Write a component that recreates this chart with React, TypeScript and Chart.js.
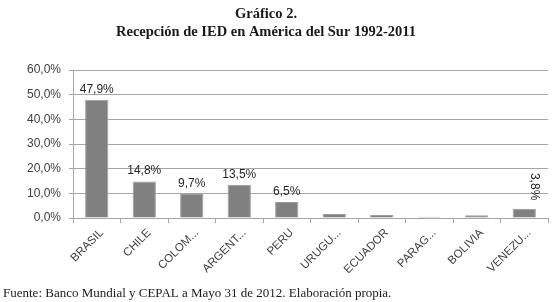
import React, { useEffect, useRef } from "react";
import { Chart, registerables } from "chart.js";

Chart.register(...registerables);

const categories = ["BRASIL", "CHILE", "COLOM...", "ARGENT...", "PERU", "URUGU...", "ECUADOR", "PARAG...", "BOLIVIA", "VENEZU..."];
const shares = [47.9, 14.8, 9.7, 13.5, 6.5, 1.6, 1.2, 0.5, 1.1, 3.8];
const shownLabels = [true, true, true, true, true, false, false, false, false, true];
const titleLines = ["Gráfico 2.", "Recepción de IED en América del Sur 1992-2011"];
const footerText = "Fuente: Banco Mundial y CEPAL a Mayo 31 de 2012. Elaboración propia.";

const fmt = (v: number) => v.toFixed(1).replace(".", ",") + "%";

const decorPlugin = {
  id: "decor",
  afterDraw(chart: any) {
    const ctx = chart.ctx as CanvasRenderingContext2D;
    ctx.save();
    ctx.fillStyle = "#1a1a1a";
    ctx.textAlign = "center";
    ctx.textBaseline = "middle";
    ctx.font = "bold 14.5px 'Liberation Serif', serif";
    ctx.fillText(titleLines[0], 266, 14);
    ctx.fillText(titleLines[1], 266, 32);
    ctx.font = "13px 'Liberation Serif', serif";
    ctx.textAlign = "left";
    ctx.textBaseline = "alphabetic";
    ctx.fillText(footerText, 3, 297);

    const meta = chart.getDatasetMeta(0);
    const xScale = chart.scales.x;

    // category labels (rotated 45°)
    ctx.fillStyle = "#404040";
    ctx.font = "11.5px 'Liberation Sans', sans-serif";
    categories.forEach((c: string, i: number) => {
      const x = xScale.getPixelForTick(i);
      ctx.save();
      ctx.translate(x + 5, xScale.top + 13);
      ctx.rotate(-Math.PI / 4);
      ctx.textAlign = "right";
      ctx.textBaseline = "middle";
      ctx.fillText(c, 0, 0);
      ctx.restore();
    });

    // data labels
    ctx.fillStyle = "#262626";
    ctx.font = "12px 'Liberation Sans', sans-serif";
    meta.data.forEach((bar: any, i: number) => {
      if (!shownLabels[i]) return;
      const txt = fmt(shares[i]);
      if (i === shownLabels.length - 1) {
        ctx.save();
        ctx.translate(bar.x + 10, bar.y - 22);
        ctx.rotate(Math.PI / 2);
        ctx.textAlign = "center";
        ctx.textBaseline = "middle";
        ctx.fillText(txt, 0, 0);
        ctx.restore();
      } else {
        ctx.textAlign = "center";
        ctx.textBaseline = "alphabetic";
        ctx.fillText(txt, bar.x, bar.y - 7);
      }
    });
    ctx.restore();
  },
};

export default function App() {
  const ref = useRef<HTMLCanvasElement>(null);
  useEffect(() => {
    if (!ref.current) return;
    const chart = new Chart(ref.current, {
      type: "bar",
      data: {
        labels: categories,
        datasets: [
          {
            data: shares,
            backgroundColor: "#808080",
            borderColor: "#9c9c9c",
            borderWidth: 1,
            categoryPercentage: 0.98,
            barPercentage: 0.5,
          },
        ],
      },
      options: {
        responsive: false,
        animation: false,
        layout: { padding: { top: 70, right: 10, left: 0, bottom: 0 } },
        plugins: { legend: { display: false }, tooltip: { enabled: false }, title: { display: false } },
        scales: {
          x: {
            grid: { drawOnChartArea: false, drawTicks: true, tickLength: 5, color: "#a6a6a6", offset: true },
            border: { color: "#a6a6a6" },
            ticks: { display: false, autoSkip: false },
            afterFit: (s: any) => {
              s.height = 84;
            },
          },
          y: {
            min: 0,
            max: 60,
            grid: { color: "#a6a6a6", tickLength: 4 },
            border: { color: "#a6a6a6" },
            ticks: {
              stepSize: 10,
              padding: 8,
              color: "#404040",
              font: { family: "'Liberation Sans Narrow', 'Liberation Sans', sans-serif", size: 12 },
              callback: (v: any) => fmt(Number(v)),
            },
            afterFit: (s: any) => {
              s.width = 73;
            },
          },
        },
      },
      plugins: [decorPlugin],
    });
    return () => chart.destroy();
  }, []);
  return (
    <div style={{ position: "fixed", left: 0, top: 0, width: 558, height: 302, background: "#fff" }}>
      <canvas ref={ref} width={558} height={302} />
    </div>
  );
}
